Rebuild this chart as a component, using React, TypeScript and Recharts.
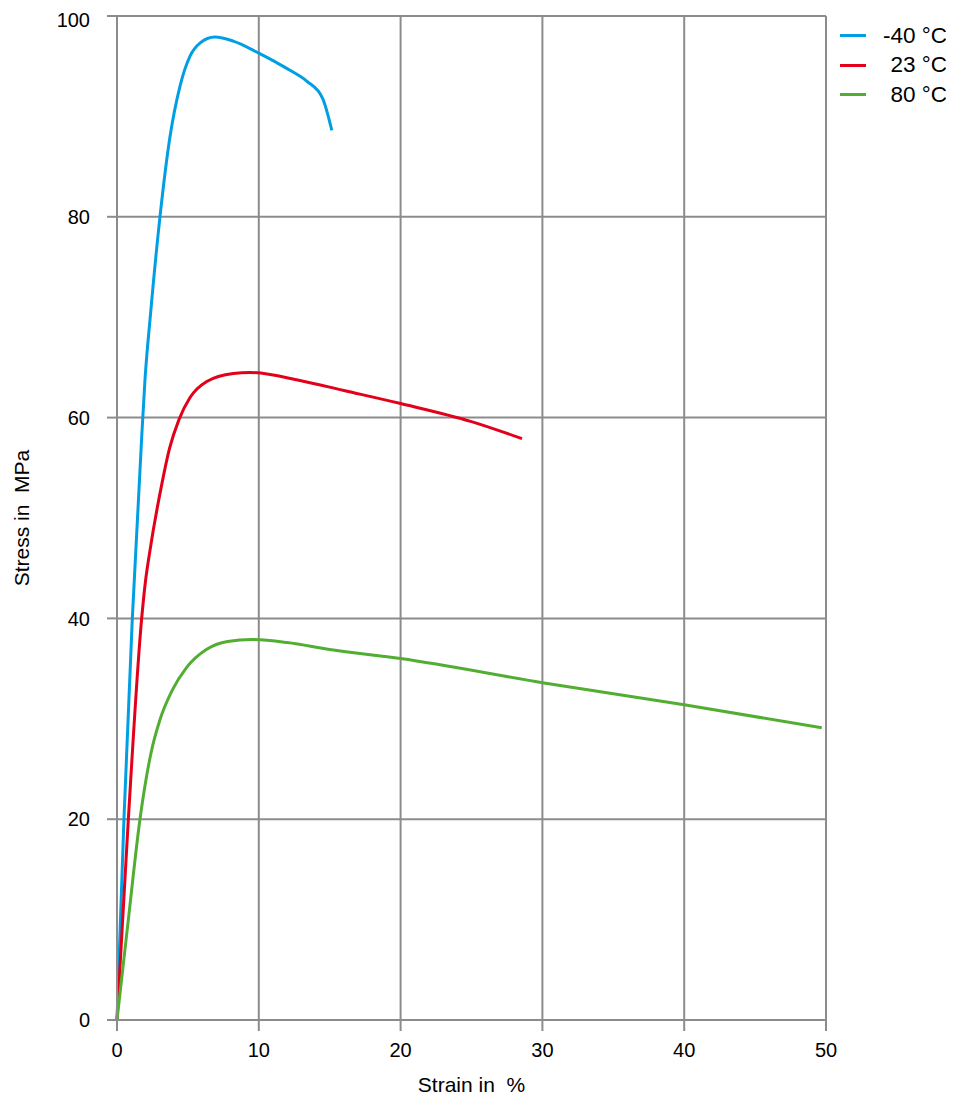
import { CartesianGrid, Line, LineChart, XAxis, YAxis } from "recharts";

// strain in %, stress in MPa
const strainM40 = [0, 0.49, 1.08, 1.74, 1.97, 2.37, 3.03, 3.74, 4.44, 5.15, 5.85, 6.9, 8.2, 10, 11.2, 12.2, 13.4, 14.5, 15.15];
const stressM40 = [0, 20, 40, 58, 63.7, 70.4, 80, 88.0, 93.0, 96.0, 97.3, 97.9, 97.5, 96.3, 95.4, 94.6, 93.5, 91.8, 88.6];

const strain23 = [0, 0.8, 1.74, 2.0, 2.33, 3.15, 3.7, 4.37, 5.15, 6.33, 8.2, 9.4, 12.9, 16, 20, 25, 28.56];
const stress23 = [0, 20, 40, 43.6, 46.8, 53.3, 56.9, 59.8, 62.0, 63.6, 64.4, 64.5, 63.7, 62.7, 61.4, 59.6, 57.9];

const strain80 = [0, 0.8, 1.62, 2.4, 3.03, 3.88, 4.9, 6.3, 7.8, 9.5, 12, 15, 20, 30, 40, 49.7];
const stress80 = [0, 10, 20, 26.6, 29.9, 32.8, 35.1, 36.9, 37.7, 37.9, 37.6, 36.9, 36.0, 33.6, 31.4, 29.1];

const xTicks = [0, 10, 20, 30, 40, 50];
const yTicks = [0, 20, 40, 60, 80, 100];

const series = [
  { name: "-40 °C", color: "#009fe3", x: strainM40, y: stressM40 },
  { name: "23 °C", color: "#e2001a", x: strain23, y: stress23 },
  { name: "80 °C", color: "#52ae32", x: strain80, y: stress80 },
];

const toPoints = (xs: number[], ys: number[]) => xs.map((x, i) => ({ strain: x, stress: ys[i] }));

const FONT = "'Liberation Sans', Arial, sans-serif";
const GRID = "#8c8c8c";

export default function App() {
  return (
    <div style={{ position: "relative", width: 946, height: 1090, fontFamily: FONT }}>
      <LineChart width={946} height={1090} margin={{ top: 8, right: 128, bottom: 0, left: 0 }}>
        <CartesianGrid stroke={GRID} strokeWidth={2} />
        <XAxis
          type="number"
          dataKey="strain"
          domain={[0, 50]}
          ticks={xTicks}
          height={78}
          allowDuplicatedCategory={false}
          axisLine={{ stroke: GRID, strokeWidth: 2 }}
          tickLine={{ stroke: GRID, strokeWidth: 2 }}
          tickSize={11}
          tickMargin={12}
          tick={{ fill: "#000", fontSize: 20, fontFamily: FONT }}
          label={{ value: "Strain in\u00a0\u00a0%", position: "insideBottom", offset: 6, fill: "#000", fontSize: 21, fontFamily: FONT }}
        />
        <YAxis
          type="number"
          domain={[0, 100]}
          ticks={yTicks}
          width={109}
          axisLine={{ stroke: GRID, strokeWidth: 2 }}
          tickLine={{ stroke: GRID, strokeWidth: 2 }}
          tickSize={10}
          tickMargin={17}
          tick={{ fill: "#000", fontSize: 20, fontFamily: FONT }}
          label={{
            value: "Stress in\u00a0\u00a0MPa",
            angle: -90,
            position: "insideLeft",
            offset: 14,
            fill: "#000",
            fontSize: 21,
            fontFamily: FONT,
            style: { textAnchor: "middle" },
          }}
        />
        {series.map((s) => (
          <Line
            key={s.name}
            data={toPoints(s.x, s.y)}
            dataKey="stress"
            name={s.name}
            type="monotone"
            stroke={s.color}
            strokeWidth={3}
            dot={false}
            activeDot={false}
            isAnimationActive={false}
          />
        ))}
      </LineChart>
      <div style={{ position: "absolute", left: 832, top: 13, width: 107 }}>
        {series.map((s) => (
          <div key={s.name} style={{ display: "flex", alignItems: "center", height: 29.5 }}>
            <div style={{ width: 26, height: 3, background: s.color }} />
            <div style={{ flex: 1, textAlign: "right", fontSize: 22.5, color: "#000" }}>{s.name}</div>
          </div>
        ))}
      </div>
    </div>
  );
}
